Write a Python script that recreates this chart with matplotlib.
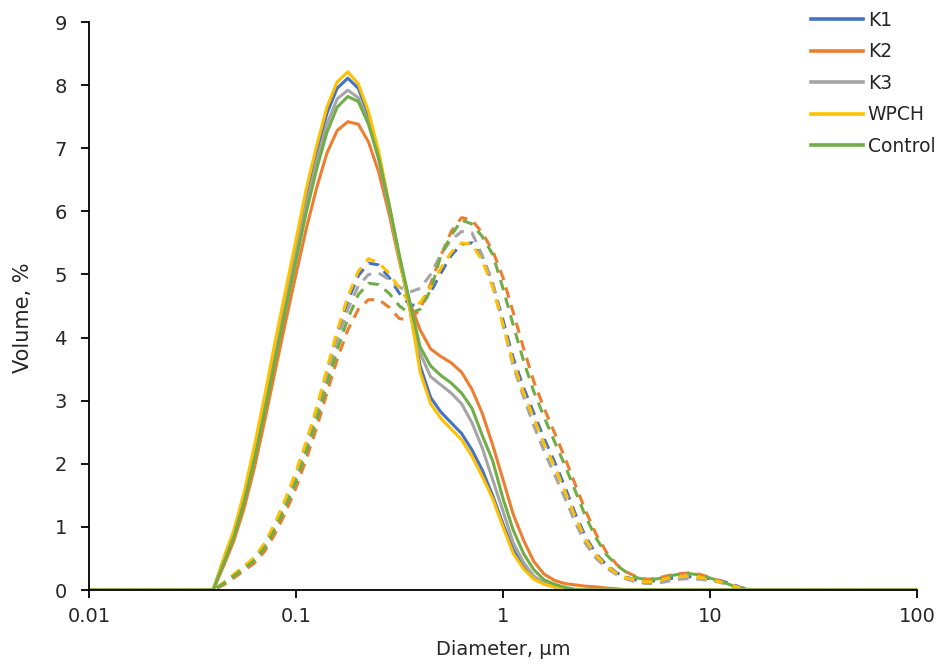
import matplotlib
matplotlib.use("Agg")
import matplotlib.pyplot as plt
from matplotlib.lines import Line2D

# Diameter grid (µm)
diameter = [0.01, 0.0398, 0.0447, 0.0501, 0.0562, 0.0631, 0.0708, 0.0794, 0.0891,
            0.1, 0.112, 0.126, 0.141, 0.158, 0.178, 0.2, 0.224, 0.251, 0.282, 0.316,
            0.355, 0.398, 0.447, 0.501, 0.562, 0.631, 0.708, 0.794, 0.891,
            1.0, 1.12, 1.26, 1.41, 1.58, 1.78, 2.0, 2.24, 2.51, 2.82, 3.16,
            3.55, 3.98, 4.47, 5.01, 5.62, 6.31, 7.08, 7.94, 8.91,
            10.0, 11.2, 12.6, 14.1, 15.8, 100]

labels = ["K1", "K2", "K3", "WPCH", "Control"]
colors = ["#4472C4", "#ED7D31", "#A5A5A5", "#FFC000", "#70AD47"]

# Solid curves
k1_solid = [0, 0, 0.48, 0.92, 1.5, 2.22, 3.0, 3.85, 4.65,
            5.45, 6.25, 6.95, 7.55, 7.95, 8.11, 7.95, 7.52, 6.9, 6.08, 5.25,
            4.45, 3.55, 3.05, 2.82, 2.65, 2.48, 2.22, 1.9, 1.5,
            1.05, 0.64, 0.36, 0.19, 0.1, 0.05, 0.02, 0, 0, 0, 0,
            0, 0, 0, 0, 0, 0, 0, 0, 0,
            0, 0, 0, 0, 0, 0]
k2_solid = [0, 0, 0.38, 0.78, 1.3, 1.95, 2.7, 3.48, 4.25,
            5.0, 5.72, 6.38, 6.92, 7.28, 7.42, 7.38, 7.1, 6.62, 5.95, 5.2,
            4.55, 4.12, 3.82, 3.7, 3.6, 3.45, 3.18, 2.8, 2.3,
            1.75, 1.2, 0.78, 0.45, 0.25, 0.15, 0.1, 0.08, 0.06, 0.05, 0.03,
            0.02, 0, 0, 0, 0, 0, 0, 0, 0,
            0, 0, 0, 0, 0, 0]
k3_solid = [0, 0, 0.45, 0.88, 1.45, 2.15, 2.92, 3.75, 4.55,
            5.33, 6.1, 6.8, 7.38, 7.78, 7.92, 7.8, 7.4, 6.82, 6.05, 5.25,
            4.5, 3.75, 3.38, 3.25, 3.12, 2.95, 2.65, 2.25, 1.75,
            1.25, 0.75, 0.43, 0.22, 0.11, 0.05, 0.02, 0, 0, 0, 0,
            0, 0, 0, 0, 0, 0, 0, 0, 0,
            0, 0, 0, 0, 0, 0]
wpch_solid = [0, 0, 0.5, 0.95, 1.55, 2.3, 3.1, 3.95, 4.75,
              5.55, 6.35, 7.05, 7.65, 8.05, 8.21, 8.02, 7.58, 6.95, 6.1, 5.25,
              4.45, 3.45, 2.95, 2.72, 2.55, 2.38, 2.12, 1.8, 1.45,
              1.0, 0.58, 0.33, 0.17, 0.09, 0.05, 0.02, 0, 0, 0, 0,
              0, 0, 0, 0, 0, 0, 0, 0, 0,
              0, 0, 0, 0, 0, 0]
control_solid = [0, 0, 0.42, 0.84, 1.4, 2.08, 2.85, 3.66, 4.45,
                 5.22, 5.98, 6.68, 7.25, 7.65, 7.82, 7.74, 7.38, 6.84, 6.1, 5.3,
                 4.55, 3.85, 3.55, 3.4, 3.28, 3.12, 2.88, 2.45, 2.05,
                 1.45, 0.95, 0.57, 0.32, 0.16, 0.09, 0.04, 0.01, 0, 0, 0,
                 0, 0, 0, 0, 0, 0, 0, 0, 0,
                 0, 0, 0, 0, 0, 0]

# Dashed curves
k1_dash = [0, 0, 0.11, 0.24, 0.37, 0.5, 0.72, 1.03, 1.4,
           1.82, 2.3, 2.85, 3.45, 4.05, 4.58, 4.98, 5.18, 5.15, 4.95, 4.7,
           4.52, 4.5, 4.72, 5.02, 5.3, 5.48, 5.5, 5.28, 4.85,
           4.28, 3.68, 3.2, 2.8, 2.4, 2.02, 1.62, 1.2, 0.84, 0.57, 0.4,
           0.27, 0.2, 0.15, 0.14, 0.15, 0.18, 0.2, 0.21, 0.2,
           0.18, 0.15, 0.1, 0.04, 0, 0]
k2_dash = [0, 0, 0.08, 0.19, 0.31, 0.43, 0.62, 0.9, 1.23,
           1.62, 2.07, 2.58, 3.12, 3.65, 4.12, 4.45, 4.6, 4.6, 4.48, 4.3,
           4.28, 4.45, 4.85, 5.3, 5.68, 5.9, 5.86, 5.66, 5.38,
           4.95, 4.4, 3.82, 3.3, 2.88, 2.48, 2.08, 1.66, 1.25, 0.88, 0.6,
           0.4, 0.28, 0.2, 0.17, 0.19, 0.23, 0.26, 0.27, 0.25,
           0.2, 0.14, 0.08, 0.03, 0, 0]
k3_dash = [0, 0, 0.11, 0.24, 0.37, 0.5, 0.72, 1.02, 1.38,
           1.8, 2.27, 2.8, 3.38, 3.95, 4.45, 4.82, 5.0, 5.02, 4.92, 4.8,
           4.72, 4.78, 5.0, 5.32, 5.55, 5.68, 5.66, 5.3, 4.88,
           4.2, 3.55, 3.05, 2.6, 2.2, 1.82, 1.44, 1.06, 0.73, 0.5, 0.35,
           0.24, 0.17, 0.12, 0.1, 0.11, 0.14, 0.17, 0.18, 0.17,
           0.15, 0.12, 0.07, 0.02, 0, 0]
wpch_dash = [0, 0, 0.12, 0.25, 0.38, 0.52, 0.75, 1.07, 1.45,
             1.88, 2.35, 2.9, 3.5, 4.1, 4.65, 5.05, 5.25, 5.18, 5.02, 4.78,
             4.55, 4.55, 4.8, 5.1, 5.35, 5.5, 5.48, 5.22, 4.8,
             4.2, 3.6, 3.12, 2.72, 2.32, 1.95, 1.55, 1.15, 0.8, 0.55, 0.38,
             0.26, 0.19, 0.15, 0.13, 0.15, 0.19, 0.21, 0.22, 0.2,
             0.17, 0.13, 0.08, 0.03, 0, 0]
control_dash = [0, 0, 0.1, 0.22, 0.34, 0.47, 0.68, 0.97, 1.32,
                1.72, 2.18, 2.7, 3.25, 3.8, 4.3, 4.68, 4.86, 4.84, 4.7, 4.5,
                4.38, 4.45, 4.75, 5.3, 5.62, 5.86, 5.8, 5.6, 5.32,
                4.78, 4.2, 3.62, 3.14, 2.74, 2.34, 1.96, 1.56, 1.16, 0.82, 0.56,
                0.39, 0.27, 0.19, 0.16, 0.18, 0.22, 0.25, 0.26, 0.24,
                0.19, 0.14, 0.08, 0.03, 0, 0]

solid_series = [k1_solid, k2_solid, k3_solid, wpch_solid, control_solid]
dash_series = [k1_dash, k2_dash, k3_dash, wpch_dash, control_dash]

xticks = [0.01, 0.1, 1, 10, 100]
xtick_labels = ["0.01", "0.1", "1", "10", "100"]
yticks = list(range(0, 10))

fig = plt.figure(figsize=(9.43, 6.67), dpi=100)
ax = fig.add_axes([89 / 943, 1 - 590 / 667, (917 - 89) / 943, (590 - 22) / 667])

lw = 2.2
for ys, c in zip(dash_series, colors):
    ax.plot(diameter, ys, color=c, lw=lw, linestyle=(0, (3.5, 2.5)),
            dash_joinstyle="round", dash_capstyle="butt")
for ys, c, lab in zip(solid_series, colors, labels):
    ax.plot(diameter, ys, color=c, lw=lw, label=lab, solid_joinstyle="round")

ax.set_xscale("log")
ax.set_xlim(0.01, 100)
ax.set_ylim(0, 9)
ax.set_xticks(xticks)
ax.set_xticklabels(xtick_labels)
ax.xaxis.set_minor_locator(matplotlib.ticker.NullLocator())
ax.set_yticks(yticks)
ax.set_yticklabels([str(v) for v in yticks])

for s in ["top", "right"]:
    ax.spines[s].set_visible(False)
for s in ["left", "bottom"]:
    ax.spines[s].set_linewidth(1.3)
    ax.spines[s].set_color("black")

ax.tick_params(axis="both", direction="out", length=6, width=1.3,
               labelsize=14, colors="black", labelcolor="#262626")
ax.tick_params(axis="x", pad=6)
ax.tick_params(axis="y", pad=10)

ax.set_xlabel("Diameter, µm", fontsize=14, color="#262626", labelpad=10)
ax.set_ylabel("Volume, %", fontsize=15, color="#262626")
ax.yaxis.set_label_coords(-0.068, 0.48)

handles = [Line2D([0], [0], color=c, lw=2.6) for c in colors]
leg = fig.legend(handles, labels, loc="upper left",
                 bbox_to_anchor=(811 / 943, 1 - 11 / 667),
                 bbox_transform=fig.transFigure, frameon=False,
                 fontsize=13.5, handlelength=2.75, handletextpad=0.28,
                 labelspacing=0.66, borderpad=0, borderaxespad=0)
for t in leg.get_texts():
    t.set_color("#262626")

fig.savefig("out.png", dpi=100)
